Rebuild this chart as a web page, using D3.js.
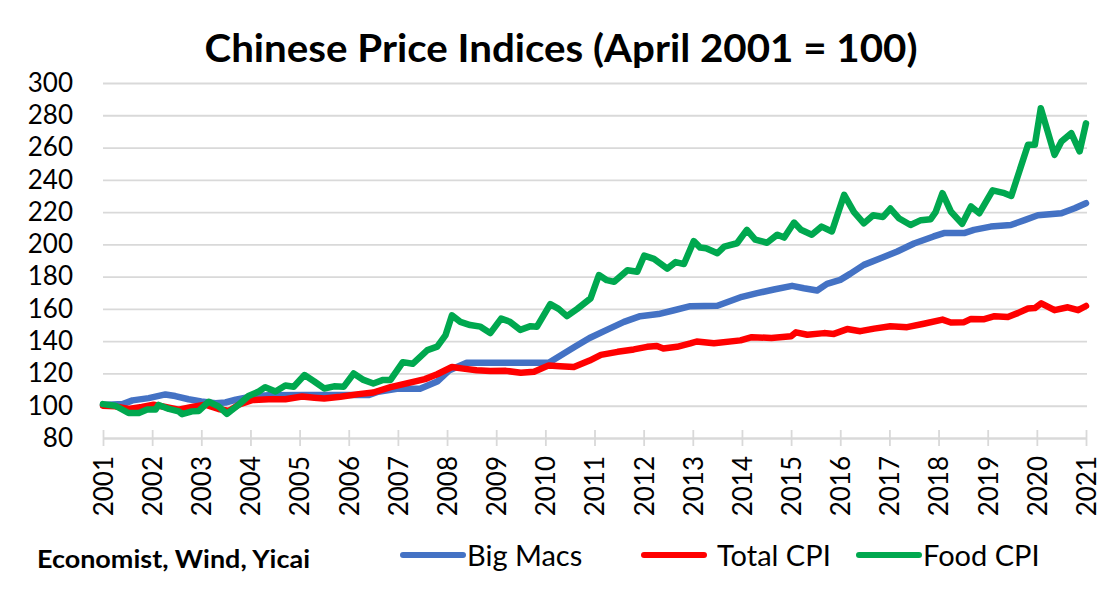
<!DOCTYPE html>
<html>
<head>
<meta charset="utf-8">
<script src="https://cdn.jsdelivr.net/npm/d3@7"></script>
<style>
  body { margin: 0; background: #fff; }
  svg { display: block; font-family: Lato, "Open Sans", sans-serif; }
</style>
</head>
<body>
<svg width="1118" height="595"></svg>
<script>
// data: [decimal year, index]
const bigMacs = [
  [2001.0,100.5],[2001.4,101],[2001.6,103.3],[2001.93,104.7],[2002.27,107],[2002.47,106],[2002.74,104],
  [2003.0,102.7],[2003.29,101.6],[2003.49,102],[2003.7,103.7],[2004.03,105.7],[2004.37,106.5],[2005.1,106.6],
  [2006.4,106.6],[2006.6,108.7],[2006.98,110.5],[2007.45,110.5],[2007.8,115],[2008.05,122],[2008.4,126.6],
  [2010.07,126.6],[2010.6,136.5],[2010.9,142],[2011.25,147],[2011.6,152],[2011.93,155.5],[2012.3,156.8],
  [2012.6,159],[2012.95,161.7],[2013.5,162],[2014.0,167.5],[2014.31,169.8],[2014.65,172],[2015.02,174.3],
  [2015.26,172.8],[2015.53,171.4],[2015.73,175.5],[2016.0,178],[2016.2,181.7],[2016.48,187.3],[2016.82,191.4],
  [2017.16,195.6],[2017.5,200.5],[2017.9,204.9],[2018.11,207],[2018.52,207],[2018.72,209],[2019.06,211],
  [2019.47,212],[2019.75,215],[2020.02,218],[2020.5,219.3],[2020.77,222.4],[2021.0,225.5]
];
const totalCPI = [
  [2001.0,100],[2001.25,99.6],[2001.52,98],[2001.79,99.2],[2002.03,100.6],[2002.27,99.2],[2002.54,97.6],
  [2002.81,99.2],[2003.08,100.6],[2003.35,98],[2003.56,96.8],[2003.76,100.6],[2004.03,103.5],[2004.37,104],
  [2004.71,104],[2005.05,105.7],[2005.3,105],[2005.5,104.5],[2005.83,105.6],[2006.2,107.2],[2006.5,108.2],
  [2006.85,111.5],[2007.2,114],[2007.55,116.5],[2007.8,119.5],[2008.1,124],[2008.33,123],[2008.6,122],
  [2008.88,121.5],[2009.2,121.6],[2009.5,120.4],[2009.77,121],[2010.07,125],[2010.3,124.5],[2010.58,124],
  [2010.9,128],[2011.13,131.5],[2011.47,133.4],[2011.8,134.9],[2012.07,136.5],[2012.27,137],[2012.4,135.5],
  [2012.68,136.5],[2012.95,138.6],[2013.08,139.8],[2013.43,138.7],[2013.97,140.5],[2014.2,142.5],[2014.6,142],
  [2015.0,143],[2015.1,145.5],[2015.33,144],[2015.67,145],[2015.87,144.5],[2016.14,147.5],[2016.41,146.2],
  [2016.69,147.8],[2017.02,149.3],[2017.36,148.7],[2017.7,150.8],[2018.08,153.4],[2018.25,151.6],[2018.52,151.8],
  [2018.66,153.8],[2018.93,153.6],[2019.14,155.5],[2019.41,155],[2019.61,157.4],[2019.82,160.3],[2019.96,160.5],
  [2020.09,163.5],[2020.36,159.2],[2020.63,161],[2020.84,159.2],[2021.0,161.8]
];
const foodCPI = [
  [2001.0,101],[2001.25,100],[2001.52,95.5],[2001.73,95.5],[2001.9,97.6],[2002.07,97.6],[2002.13,100.5],
  [2002.34,98],[2002.54,96.5],[2002.61,94.8],[2002.81,96.5],[2002.95,96.8],[2003.15,102.5],[2003.35,99.6],
  [2003.52,95],[2003.76,100.6],[2003.96,106],[2004.17,108.8],[2004.3,111.5],[2004.51,108.8],[2004.71,112.5],
  [2004.88,111.8],[2005.1,119],[2005.3,115],[2005.5,110.7],[2005.7,112],[2005.9,111.8],[2006.1,120],
  [2006.3,116],[2006.5,113.8],[2006.7,116],[2006.85,116],[2007.1,127],[2007.3,126],[2007.6,134.5],
  [2007.8,136.6],[2007.97,143.8],[2008.1,156],[2008.27,152],[2008.47,150],[2008.68,149],[2008.88,145],
  [2009.1,154],[2009.28,152],[2009.49,147],[2009.7,149.3],[2009.83,149],[2010.1,163],[2010.27,160],
  [2010.44,155.5],[2010.65,160],[2010.92,166.5],[2011.09,181],[2011.25,177.8],[2011.4,176.8],[2011.67,184],
  [2011.87,183],[2012.01,193],[2012.21,191],[2012.48,185],[2012.65,189],[2012.82,187.8],[2013.02,202],
  [2013.15,198],[2013.27,197.6],[2013.5,194.5],[2013.64,198.6],[2013.9,200.7],[2014.1,209],[2014.27,203],
  [2014.51,201],[2014.72,206],[2014.86,204.2],[2015.06,213.5],[2015.2,209],[2015.42,206],[2015.62,211],
  [2015.83,208],[2016.08,230.7],[2016.28,220],[2016.48,213],[2016.67,218],[2016.87,217],[2017.02,222.2],
  [2017.2,216],[2017.43,212],[2017.64,215],[2017.84,215.6],[2017.94,220],[2018.08,231.7],[2018.25,220.4],
  [2018.48,212.7],[2018.66,223.5],[2018.83,219.3],[2019.1,233.5],[2019.34,231.7],[2019.48,230],[2019.82,261.7],
  [2019.96,261.7],[2020.08,284.4],[2020.36,255.5],[2020.5,263.8],[2020.7,268.9],[2020.87,257.6],[2021.0,275]
];

const seriesNames = ["Big Macs", "Total CPI", "Food CPI"];
const seriesColors = ["#4472C4", "#FF0000", "#00A84F"];
const yearTicks = d3.range(2001, 2022);
const valueTicks = d3.range(80, 301, 20);

const svg = d3.select("svg");

const x = d3.scaleLinear().domain([2001, 2021]).range([103, 1086]);
const y = d3.scaleLinear().domain([80, 300]).range([438, 83]);

// title
svg.append("text")
  .attr("x", 561)
  .attr("y", 62)
  .attr("text-anchor", "middle")
  .attr("textLength", 713)
  .attr("lengthAdjust", "spacingAndGlyphs")
  .style("font-size", "39px")
  .style("font-weight", "bold")
  .text("Chinese Price Indices (April 2001 = 100)");

// horizontal gridlines + y labels
const yAxis = svg.append("g")
  .attr("transform", "translate(103,0)")
  .call(d3.axisLeft(y).tickValues(valueTicks).tickSize(-984).tickPadding(30));
yAxis.select(".domain").remove();
yAxis.selectAll(".tick line").attr("stroke", "#D9D9D9").attr("stroke-width", 1.8);
yAxis.selectAll(".tick text")
  .attr("fill", "#000")
  .style("font-size", "26px")
  .style("font-family", "Lato, 'Open Sans', sans-serif");

// x axis with ticks crossing the baseline
const xAxis = svg.append("g")
  .attr("transform", "translate(0,438)")
  .call(d3.axisBottom(x).tickValues(yearTicks).tickFormat(d3.format("d")).tickSizeOuter(0));
xAxis.select(".domain").attr("stroke", "#D9D9D9").attr("stroke-width", 1.8);
xAxis.selectAll(".tick line").attr("y1", -8).attr("y2", 8).attr("stroke", "#D9D9D9").attr("stroke-width", 1.8);
xAxis.selectAll(".tick text")
  .attr("fill", "#000")
  .attr("transform", "rotate(-90)")
  .attr("text-anchor", "end")
  .attr("x", -18)
  .attr("y", 0)
  .attr("dy", "0.36em")
  .style("font-size", "26px")
  .style("font-family", "Lato, 'Open Sans', sans-serif");

// lines
const line = d3.line().x(d => x(d[0])).y(d => y(d[1]));
[bigMacs, totalCPI, foodCPI].forEach(function (data, i) {
  svg.append("path")
    .datum(data)
    .attr("fill", "none")
    .attr("stroke", seriesColors[i])
    .attr("stroke-width", 6.5)
    .attr("stroke-linejoin", "round")
    .attr("stroke-linecap", "round")
    .attr("d", line);
});

// source
svg.append("text")
  .attr("x", 37)
  .attr("y", 568)
  .attr("textLength", 273)
  .attr("lengthAdjust", "spacingAndGlyphs")
  .style("font-size", "24px")
  .style("font-weight", "bold")
  .text("Economist, Wind, Yicai");

// legend
const legendX = [403, 644, 859];
const legend = svg.append("g")
  .selectAll("g")
  .data(seriesNames)
  .enter()
  .append("g")
  .attr("transform", (d, i) => "translate(" + legendX[i] + ",555)");
legend.append("line")
  .attr("x1", 0).attr("x2", 60)
  .attr("stroke", (d, i) => seriesColors[i])
  .attr("stroke-width", 6)
  .attr("stroke-linecap", "round");
legend.append("text")
  .attr("x", (d, i) => i === 1 ? 73 : 64)
  .attr("y", 11)
  .style("font-size", "29px")
  .text(d => d);
</script>
</body>
</html>
